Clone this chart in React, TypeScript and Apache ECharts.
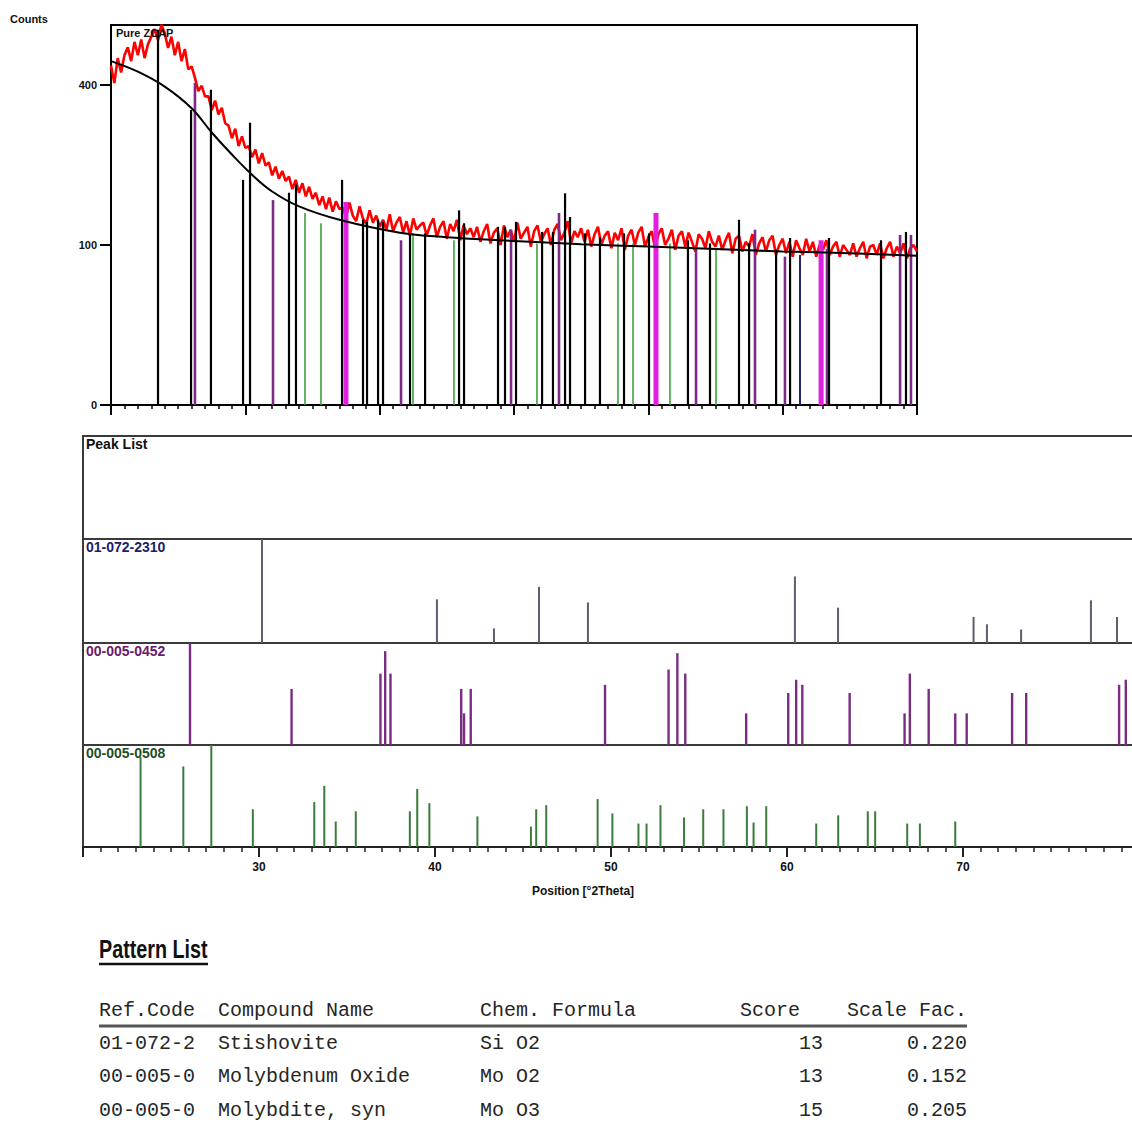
import React, { useEffect, useRef } from "react";
import * as echarts from "echarts";

// ---------- observed scan (counts), 20°..80° every 0.25° ----------
const X_START = 20;
const X_STEP = 0.25;
const observedCounts = [
  450, 405, 470, 432, 478,
  500, 462, 515, 478, 522, 470, 508, 530,
  552, 520, 565, 540,
  498, 530, 478, 515,
  462, 495, 440, 448,
  418, 385, 398, 372,
  372, 340, 362, 330, 345, 310,
  305, 278, 298, 262, 282, 258,
  262, 240, 255, 228, 248, 224,
  230, 206, 222, 200, 214, 196,
  204, 182, 198, 176, 192, 170, 186, 166,
  176, 156, 170, 150, 168, 146, 162, 150,
  152, 138, 160, 140, 132, 154, 136, 128, 148, 130, 140, 124,
  134, 120, 142, 118, 130, 138, 116, 132, 112, 136, 120, 126,
  130, 112, 126, 136, 110, 124, 132, 108, 128, 118, 134, 106, 126, 114, 122, 110,
  124, 104, 118, 128, 102, 116, 122, 100, 126, 110, 120, 104, 130, 108, 116, 124,
  98, 118, 126, 104, 114, 122, 100, 120, 128, 106, 116, 132, 102, 118, 110, 122,
  104, 120, 98, 114, 124, 100, 112, 118, 96, 116, 106, 122, 94, 112, 120, 100,
  116, 124, 98, 110, 118, 96, 114, 122, 100, 108, 120, 94, 112, 118, 98, 116,
  104, 92, 114, 108, 96, 118, 104, 98,
  112, 94, 106, 116, 90, 108, 112, 92, 104, 98, 114, 88, 102, 110, 92, 106,
  112, 88, 100, 108, 90, 104, 86, 106, 96, 88, 108, 92, 104, 86, 100, 94,
  106, 88, 98, 104, 86, 100, 94, 88,
  102, 86, 96, 104, 84, 98, 100, 88, 102, 84, 96, 104, 86, 98, 90, 102, 84, 96, 100, 92,
];

// ---------- fitted background ----------
const backgroundX = [20, 22, 24, 26, 27.5, 29, 30.5, 32, 34, 37, 41.5, 45, 49, 55, 60, 65, 70, 75, 80];
const backgroundCounts = [462, 434, 396, 344, 290, 245, 207, 178, 154, 134, 116, 110, 106, 101, 98, 95, 92, 90, 87];

// ---------- markers in the scan plot (position, top in counts) ----------
const blackStickPos = [23.5, 25.96, 27.44, 29.83, 30.35, 33.25, 33.77, 37.2, 38.76, 39.06, 39.88, 40.25, 42.26, 43.38, 45.91, 46.28, 48.81, 49.33, 50.15, 52.09, 52.9, 53.8, 54.17, 55.29, 56.4, 58.19, 60.05, 60.57, 62.95, 64.59, 66.75, 67.5, 69.51, 70.55, 73.45, 77.32, 79.18];
const blackStickTop = [550, 340, 388, 198, 311, 176, 190, 198, 134, 131, 134, 131, 115, 115, 148, 129, 124, 124, 131, 117, 117, 175, 138, 115, 110, 115, 115, 144, 106, 102, 134, 102, 94, 109, 109, 106, 117];
const purpleStickPos = [26.25, 32.06, 41.59, 49.78, 53.35, 63.55, 67.94, 70.17, 73.3, 78.74, 79.55];
const purpleStickTop = [405, 164, 106, 120, 144, 97, 120, 86, 95, 113, 113];
const magentaStickPos = [37.49, 60.57, 72.86];
const magentaStickTop = [161, 144, 106];
const greenStickPos = [34.44, 35.63, 42.48, 45.53, 51.71, 57.74, 58.86, 61.61, 65.04];
const greenStickTop = [144, 129, 115, 106, 102, 102, 102, 102, 94];
const navyStickPos = [71.29];
const navyStickTop = [88];

// ---------- reference patterns (relative intensity %) ----------
const ref2310Pos = [30.17, 40.11, 43.35, 45.91, 48.69, 60.45, 62.9, 70.6, 71.36, 73.3, 77.27, 78.75];
const ref2310Int = [100, 42, 14, 54, 39, 64, 34, 25, 18, 13, 41, 25];
const ref0452Pos = [26.08, 31.85, 36.9, 37.17, 37.47, 41.49, 41.65, 42.03, 49.66, 53.27, 53.77, 54.22, 57.68, 60.07, 60.52, 60.87, 63.56, 66.68, 66.98, 68.05, 69.56, 70.21, 72.79, 73.59, 78.87, 79.25];
const ref0452Int = [100, 55, 70, 92, 70, 55, 31, 55, 59, 74, 90, 70, 31, 51, 64, 59, 51, 31, 70, 55, 31, 31, 51, 51, 59, 64];
const ref0508Pos = [23.27, 25.7, 27.29, 29.65, 33.14, 33.71, 34.36, 35.5, 38.57, 38.99, 39.68, 42.41, 45.45, 45.75, 46.32, 49.24, 50.08, 51.56, 52.02, 52.81, 54.15, 55.24, 56.39, 57.72, 58.1, 58.82, 61.66, 62.91, 64.59, 65.01, 66.83, 67.55, 69.56];
const ref0508Int = [88, 79, 100, 37, 44, 60, 25, 35, 35, 57, 43, 30, 20, 37, 41, 47, 33, 23, 23, 41, 29, 37, 37, 40, 24, 40, 23, 31, 35, 35, 23, 23, 25];

// ---------- ticks / labels ----------
const countTicks = [0, 100, 400];
const positionTickLabels = [30, 40, 50, 60, 70];
const panelLabels = ["Peak List", "01-072-2310", "00-005-0452", "00-005-0508"];

// ---------- pattern list ----------
const tableHeaders = ["Ref.Code", "Compound Name", "Chem. Formula", "Score", "Scale Fac."];
const refCodes = ["01-072-2", "00-005-0", "00-005-0"];
const compoundNames = ["Stishovite", "Molybdenum Oxide", "Molybdite, syn"];
const formulas = ["Si O2", "Mo O2", "Mo O3"];
const scores = [13, 13, 15];
const scaleFactors = ["0.220", "0.152", "0.205"];

const SANS = "'Liberation Sans', Arial, sans-serif";
const MONO = "'Liberation Mono', 'Courier New', monospace";

function stickSeries(xi: number, yi: number, data: number[][], color: string, width: number, z = 3) {
  return {
    type: "custom",
    xAxisIndex: xi,
    yAxisIndex: yi,
    data,
    z,
    encode: { x: 0, y: 1 },
    renderItem: (_p: any, api: any) => {
      const x = api.value(0);
      const h = api.value(1);
      const a = api.coord([x, 0]);
      const b = api.coord([x, h]);
      return {
        type: "line",
        shape: { x1: a[0], y1: a[1], x2: b[0], y2: b[1] },
        style: { stroke: color, lineWidth: width },
      };
    },
  };
}

function buildOption() {
  const sq = (v: number) => Math.sqrt(v);
  const observed = observedCounts.map((c, i) => [X_START + i * X_STEP, sq(c)]);
  const background = backgroundX.map((x, i) => [x, sq(backgroundCounts[i])]);
  const pair = (pos: number[], top: number[]) => pos.map((p, i) => [p, sq(top[i])]);
  const pairRaw = (pos: number[], v: number[]) => pos.map((p, i) => [p, v[i]]);

  const panelTops = [436, 539, 643, 745];
  const panelHeights = [103, 104, 102, 102];

  const grids: any[] = [
    { left: 111, top: 25, width: 806, height: 380, show: true, borderColor: "#000", borderWidth: 2, outerBoundsMode: "none", containLabel: false },
  ];
  panelTops.forEach((t, i) =>
    grids.push({ left: 83, top: t, width: 1056, height: panelHeights[i], show: true, borderColor: "#3a3a3a", borderWidth: 2, outerBoundsMode: "none", containLabel: false })
  );

  const xAxes: any[] = [
    {
      gridIndex: 0, type: "value", min: 20, max: 80, interval: 10,
      axisLine: { show: true, lineStyle: { color: "#000", width: 2 } },
      axisTick: { show: true, length: 10, lineStyle: { color: "#000", width: 2 } },
      minorTick: { show: true, splitNumber: 10, length: 4, lineStyle: { color: "#000", width: 1.5 } },
      axisLabel: { show: false }, splitLine: { show: false }, minorSplitLine: { show: false },
    },
  ];
  for (let i = 1; i <= 4; i++) {
    const isLast = i === 4;
    xAxes.push({
      gridIndex: i, type: "value", min: 20, max: 80, interval: 10,
      axisLine: { show: isLast, lineStyle: { color: "#222", width: 2 } },
      axisTick: { show: isLast, length: 10, lineStyle: { color: "#222", width: 2 } },
      minorTick: { show: isLast, splitNumber: 10, length: 5, lineStyle: { color: "#222", width: 1.5 } },
      axisLabel: {
        show: isLast, margin: 14, color: "#111", fontFamily: SANS, fontWeight: "bold", fontSize: 12,
        formatter: (v: number) => (positionTickLabels.includes(v) ? String(v) : ""),
      },
      splitLine: { show: false },
    });
  }

  const yAxes: any[] = [
    {
      gridIndex: 0, type: "value", min: 0, max: 23.75,
      axisLine: { show: true, lineStyle: { color: "#000", width: 2 } },
      axisTick: { show: true, length: 11, lineStyle: { color: "#000", width: 2 }, customValues: countTicks.map(sq) },
      axisLabel: {
        show: true, margin: 14, color: "#111", fontFamily: SANS, fontWeight: "bold", fontSize: 11,
        customValues: countTicks.map(sq),
        formatter: (v: number) => String(Math.round(v * v)),
      },
      splitLine: { show: false },
    },
  ];
  for (let i = 1; i <= 4; i++) {
    yAxes.push({
      gridIndex: i, type: "value", min: 0, max: 100,
      axisLine: { show: false }, axisTick: { show: false }, axisLabel: { show: false }, splitLine: { show: false },
    });
  }

  const series: any[] = [
    {
      type: "line", xAxisIndex: 0, yAxisIndex: 0, data: observed, showSymbol: false, z: 2,
      lineStyle: { color: "#ff0000", width: 2.6 },
    },
    stickSeries(0, 0, pair(greenStickPos, greenStickTop), "#3fa03f", 1.6, 3),
    stickSeries(0, 0, pair(purpleStickPos, purpleStickTop), "#7b2a85", 2.6, 3),
    stickSeries(0, 0, pair(navyStickPos, navyStickTop), "#23236e", 2, 3),
    stickSeries(0, 0, pair(blackStickPos, blackStickTop), "#000", 2.2, 4),
    stickSeries(0, 0, pair(magentaStickPos, magentaStickTop), "#e21ee2", 5, 4),
    {
      type: "line", xAxisIndex: 0, yAxisIndex: 0, data: background, showSymbol: false, smooth: 0.4, z: 5,
      lineStyle: { color: "#000", width: 2 },
    },
    stickSeries(2, 2, pairRaw(ref2310Pos, ref2310Int), "#5e5e70", 2),
    stickSeries(3, 3, pairRaw(ref0452Pos, ref0452Int), "#7a2c82", 2.4),
    stickSeries(4, 4, pairRaw(ref0508Pos, ref0508Int), "#3b7b3b", 2),
  ];

  const panelColors = ["#111", "#1c1c6b", "#6a1a6e", "#1f4f1f"];
  const graphic: any[] = [
    { type: "text", x: 10, y: 19, style: { text: "Counts", fontFamily: SANS, fontWeight: "bold", fontSize: 11, fill: "#111", textVerticalAlign: "middle" } },
    { type: "text", x: 116, y: 33, z: 10, style: { text: "Pure ZCAP", fontFamily: SANS, fontWeight: "bold", fontSize: 11, fill: "#111", textVerticalAlign: "middle" } },
    { type: "text", x: 583, y: 891, style: { text: "Position [°2Theta]", fontFamily: SANS, fontWeight: "bold", fontSize: 12, fill: "#111", textAlign: "center", textVerticalAlign: "middle" } },
  ];
  panelLabels.forEach((t, i) =>
    graphic.push({ type: "text", x: 86, y: panelTops[i] + 8, z: 10, style: { text: t, fontFamily: SANS, fontWeight: "bold", fontSize: 14, fill: panelColors[i], textVerticalAlign: "middle" } })
  );

  // Pattern list
  graphic.push({ type: "text", x: 99, y: 949, scaleX: 0.76, style: { text: "Pattern List", fontFamily: SANS, fontWeight: "bold", fontSize: 26, fill: "#111", textVerticalAlign: "middle" } });
  graphic.push({ type: "line", shape: { x1: 99, y1: 964, x2: 208, y2: 964 }, style: { stroke: "#111", lineWidth: 2.5 } });

  const colX = [99, 218, 480];
  const headerY = 1010;
  const rowY = [1043, 1076, 1110];
  const txt = (t: string, x: number, y: number, align = "left") => ({
    type: "text", x, y,
    style: { text: t, fontFamily: MONO, fontSize: 20, fill: "#262626", textAlign: align, textVerticalAlign: "middle" },
  });
  graphic.push(txt(tableHeaders[0], colX[0], headerY));
  graphic.push(txt(tableHeaders[1], colX[1], headerY));
  graphic.push(txt(tableHeaders[2], colX[2], headerY));
  graphic.push(txt(tableHeaders[3], 800, headerY, "right"));
  graphic.push(txt(tableHeaders[4], 967, headerY, "right"));
  graphic.push({ type: "line", shape: { x1: 99, y1: 1026, x2: 967, y2: 1026 }, style: { stroke: "#555", lineWidth: 3 } });
  rowY.forEach((y, i) => {
    graphic.push(txt(refCodes[i], colX[0], y));
    graphic.push(txt(compoundNames[i], colX[1], y));
    graphic.push(txt(formulas[i], colX[2], y));
    graphic.push(txt(String(scores[i]), 823, y, "right"));
    graphic.push(txt(scaleFactors[i], 967, y, "right"));
  });

  return {
    animation: false,
    backgroundColor: "#fff",
    grid: grids,
    xAxis: xAxes,
    yAxis: yAxes,
    series,
    graphic,
  };
}

export default function App() {
  const ref = useRef<HTMLDivElement>(null);
  useEffect(() => {
    if (!ref.current) return;
    const chart = echarts.init(ref.current, null, { renderer: "svg" });
    chart.setOption(buildOption() as any);
    return () => chart.dispose();
  }, []);
  return (
    <div
      ref={ref}
      style={{ position: "absolute", left: 0, top: 0, width: 1132, height: 1127, background: "#fff", overflow: "hidden" }}
    />
  );
}
